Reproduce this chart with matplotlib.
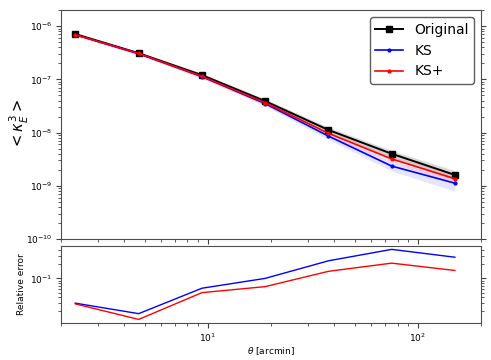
import numpy as np
import matplotlib
matplotlib.use("Agg")
import matplotlib.pyplot as plt

theta = [2.34, 4.69, 9.38, 18.75, 37.5, 75.0, 150.0]
orig = [7.1e-7, 3.1e-7, 1.2e-7, 3.9e-8, 1.12e-8, 4.0e-9, 1.6e-9]
ks = [6.9e-7, 3.04e-7, 1.125e-7, 3.5e-8, 8.6e-9, 2.35e-9, 1.12e-9]
ksp = [6.9e-7, 3.06e-7, 1.14e-7, 3.64e-8, 9.7e-9, 3.2e-9, 1.36e-9]
orig_err = [0.35e-7, 0.18e-7, 0.09e-7, 0.35e-8, 1.4e-9, 0.6e-9, 0.32e-9]
ks_err = [0.35e-7, 0.18e-7, 0.09e-7, 0.35e-8, 1.2e-9, 0.45e-9, 0.33e-9]
ksp_err = [0.35e-7, 0.18e-7, 0.09e-7, 0.35e-8, 1.2e-9, 0.45e-9, 0.28e-9]
relerr_ks = [0.030, 0.018, 0.062, 0.100, 0.235, 0.41, 0.28]
relerr_ksp = [0.029, 0.0136, 0.050, 0.067, 0.141, 0.21, 0.147]

fig = plt.figure(figsize=(4.91, 3.6), dpi=100)
ax1 = fig.add_axes([0.124, 0.336, 0.856, 0.636])
ax2 = fig.add_axes([0.124, 0.103, 0.856, 0.214], sharex=ax1)

t = np.array(theta)
for vals, err, c, a in [(orig, orig_err, 'k', 0.15), (ks, ks_err, 'b', 0.1), (ksp, ksp_err, 'r', 0.1)]:
    v = np.array(vals); e = np.array(err)
    ax1.fill_between(t, v - e, v + e, color=c, alpha=a, lw=0)

ax1.plot(theta, orig, 'k-', marker='s', ms=5, lw=1.4, label='Original')
ax1.plot(theta, ks, 'b-', marker='.', ms=4, lw=1.2, label='KS')
ax1.plot(theta, ksp, 'r-', marker='.', ms=4, lw=1.2, label='KS+')

ax1.set_xscale('log')
ax1.set_yscale('log')
ax1.set_xlim(2.0, 200)
ax1.set_ylim(1e-10, 2e-6)
ax1.set_ylabel(r'$<\kappa_E^3>$', fontsize=10.5)
ax1.yaxis.set_label_coords(-0.072, 0.5)
ax1.tick_params(labelbottom=False)
leg = ax1.legend(loc='upper right', fontsize=10, edgecolor='0.2', fancybox=True)
leg.get_frame().set_linewidth(1.0)

ax2.plot(theta, relerr_ks, 'b-', lw=1.0)
ax2.plot(theta, relerr_ksp, 'r-', lw=1.0)
ax2.set_yscale('log')
ax2.set_ylabel('Relative error', fontsize=6.5)
ax2.yaxis.set_label_coords(-0.082, 0.5)
ax2.set_xlabel(r'$\theta$ [arcmin]', fontsize=6.5, labelpad=1)

for ax in (ax1, ax2):
    ax.tick_params(which='both', right=True, direction='out', labelsize=6.5, color='0.25', pad=2.5)
    for s in ax.spines.values():
        s.set_color('0.3')

fig.savefig('out.png', dpi=100)
